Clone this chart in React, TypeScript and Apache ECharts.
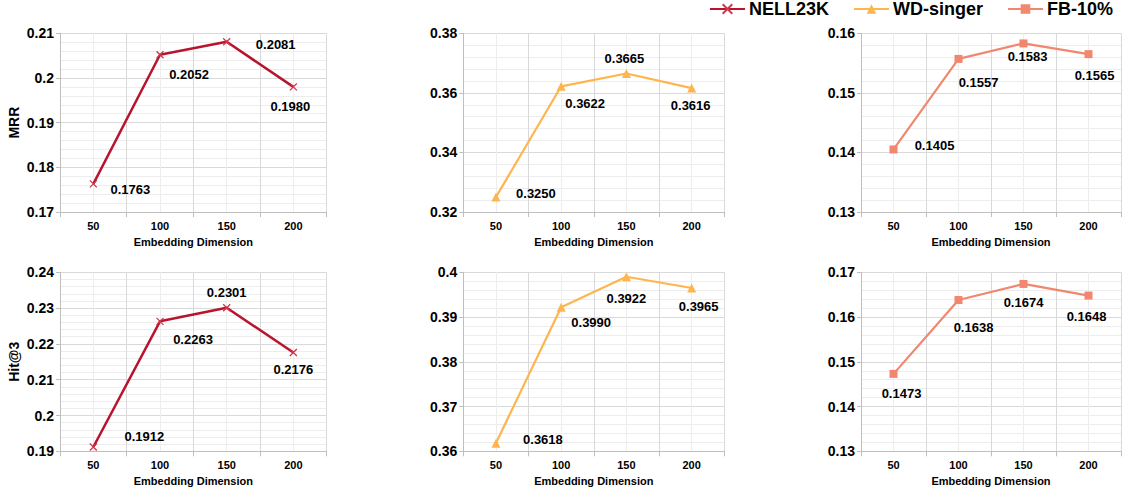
import React, { useEffect, useRef } from "react";
import * as echarts from "echarts";

const categories = ["50", "100", "150", "200"];
const seriesNames = ["NELL23K", "WD-singer", "FB-10%"];

const nellMRR = [0.1763, 0.2052, 0.2081, 0.198];
const wdMRR = [0.325, 0.3622, 0.3665, 0.3616];
const fbMRR = [0.1405, 0.1557, 0.1583, 0.1565];

const nellHit3 = [0.1912, 0.2263, 0.2301, 0.2176];
const wdHit3 = [0.3618, 0.3922, 0.399, 0.3965];
const fbHit3 = [0.1473, 0.1638, 0.1674, 0.1648];

// printed data labels (as shown on the chart)
const nellMRRLabels = ["0.1763", "0.2052", "0.2081", "0.1980"];
const wdMRRLabels = ["0.3250", "0.3622", "0.3665", "0.3616"];
const fbMRRLabels = ["0.1405", "0.1557", "0.1583", "0.1565"];
const nellHit3Labels = ["0.1912", "0.2263", "0.2301", "0.2176"];
const wdHit3Labels = ["0.3618", "0.3990", "0.3922", "0.3965"];
const fbHit3Labels = ["0.1473", "0.1638", "0.1674", "0.1648"];

// y ranges per panel
const yMin = [0.17, 0.32, 0.13, 0.19, 0.36, 0.13];
const yMax = [0.21, 0.38, 0.16, 0.24, 0.4, 0.17];
const yStep = [0.01, 0.02, 0.01, 0.01, 0.01, 0.01];
const yNames = ["MRR", "", "", "Hit@3", "", ""];

const FONT = "'Liberation Sans', Arial, sans-serif";
const COLORS = ["#B8142E", "#FFB54D", "#F0876E"];

// layout: label offsets (px) for each panel's data labels
const labelOffsets = [
  [[37, 6], [29, 20], [49, 3], [-3, 20]],
  [[40, -4], [24, 17], [-2, -15], [-1, 17]],
  [[41, -4], [20, 24], [4, 13], [6, 21]],
  [[51, -11], [33, 18], [0, -15], [0, 17]],
  [[47, -4], [30, 15], [0, 22], [7, 19]],
  [[8, 20], [15, 27], [0, 19], [-2, 21]],
];

const gridBoxes = [
  { left: 60, top: 33.3, width: 266.7, height: 178.7 },
  { left: 463.3, top: 33.3, width: 261, height: 178.7 },
  { left: 861, top: 33.3, width: 260, height: 178.7 },
  { left: 60, top: 272.3, width: 266.7, height: 179 },
  { left: 463.3, top: 272.3, width: 261, height: 179 },
  { left: 861, top: 272.3, width: 260, height: 179 },
];

export default function App() {
  const ref = useRef<HTMLDivElement>(null);
  useEffect(() => {
    document.body.style.margin = "0";
    if (!ref.current) return;
    const chart = echarts.init(ref.current, undefined, { renderer: "svg" });

    const panelData = [nellMRR, wdMRR, fbMRR, nellHit3, wdHit3, fbHit3];
    const panelLabels = [nellMRRLabels, wdMRRLabels, fbMRRLabels, nellHit3Labels, wdHit3Labels, fbHit3Labels];
    const symbols = [
      "path://M0,0L10,10M10,0L0,10",
      "triangle",
      "rect",
    ];
    const symbolSizes = [7, 9, 8];
    const lineWidths = [2.5, 2.2, 2.2];

    const xAxes: any[] = [];
    const yAxes: any[] = [];
    const series: any[] = [];

    for (let i = 0; i < 6; i++) {
      xAxes.push({
        type: "category",
        gridIndex: i,
        data: categories,
        boundaryGap: true,
        name: "Embedding Dimension",
        nameLocation: "middle",
        nameGap: 24,
        nameTextStyle: { fontFamily: FONT, fontSize: 11, fontWeight: "bold", color: "#000" },
        axisLine: { show: true, lineStyle: { color: "#BFBFBF", width: 1 } },
        axisTick: { show: true, length: 5, lineStyle: { color: "#BFBFBF" } },
        axisLabel: { fontFamily: FONT, fontSize: 11, fontWeight: "bold", color: "#000", margin: 8 },
        splitLine: { show: true, lineStyle: { color: "#D9D9D9", width: 1 } },
      });
    }
    for (let i = 0; i < 6; i++) {
      xAxes.push({
        type: "value",
        gridIndex: i,
        min: 0,
        max: 4,
        interval: 1,
        axisLine: { show: false },
        axisTick: { show: false },
        axisLabel: { show: false },
        splitLine: { show: false },
        minorTick: { show: false, splitNumber: 2 },
        minorSplitLine: { show: true, lineStyle: { color: "#EDEDED", width: 1 } },
      });
    }
    for (let i = 0; i < 6; i++) {
      yAxes.push({
        type: "value",
        gridIndex: i,
        min: yMin[i],
        max: yMax[i],
        interval: yStep[i],
        name: yNames[i],
        nameLocation: "middle",
        nameGap: 39,
        nameTextStyle: { fontFamily: FONT, fontSize: 14, fontWeight: "bold", color: "#000" },
        axisLine: { show: true, lineStyle: { color: "#BFBFBF", width: 1 } },
        axisTick: { show: true, length: 4, lineStyle: { color: "#BFBFBF" } },
        axisLabel: { fontFamily: FONT, fontSize: 14, fontWeight: "bold", color: "#000", margin: 6 },
        splitLine: { show: true, lineStyle: { color: "#D9D9D9", width: 1 } },
        minorTick: { show: false, splitNumber: 5 },
        minorSplitLine: { show: true, lineStyle: { color: "#EDEDED", width: 1 } },
      });
    }
    for (let i = 0; i < 6; i++) {
      const s = i % 3;
      const labels = panelLabels[i];
      const offs = labelOffsets[i];
      series.push({
        type: "line",
        name: seriesNames[s],
        xAxisIndex: i,
        yAxisIndex: i,
        data: panelData[i].map((v, k) => ({
          value: v,
          label: { offset: offs[k] },
        })),
        symbol: symbols[s],
        symbolSize: symbolSizes[s],
        showAllSymbol: true,
        color: COLORS[s],
        lineStyle: { color: COLORS[s], width: lineWidths[s] },
        itemStyle:
          s === 0
            ? { color: COLORS[0], borderColor: "#D0384C", borderWidth: 1.3 }
            : { color: COLORS[s], borderWidth: 0 },
        label: {
          show: true,
          position: "inside",
          align: "center",
          verticalAlign: "middle",
          fontFamily: FONT,
          fontSize: 13,
          fontWeight: "bold",
          color: "#000",
          formatter: (p: any) => labels[p.dataIndex],
        },
        emphasis: { disabled: true },
        z: 5,
      });
    }

    chart.setOption({
      animation: false,
      backgroundColor: "#fff",
      legend: {
        data: seriesNames,
        top: 0,
        right: 14,
        padding: 0,
        itemWidth: 35,
        itemHeight: 12,
        itemGap: 24,
        textStyle: { fontFamily: FONT, fontSize: 18, fontWeight: "bold", color: "#000", padding: [0, 0, 0, -1] },
      },
      grid: gridBoxes.map((g) => ({ ...g, containLabel: false })),
      xAxis: xAxes,
      yAxis: yAxes,
      series,
    });
    return () => chart.dispose();
  }, []);
  return <div ref={ref} style={{ width: 1127, height: 493 }} />;
}
